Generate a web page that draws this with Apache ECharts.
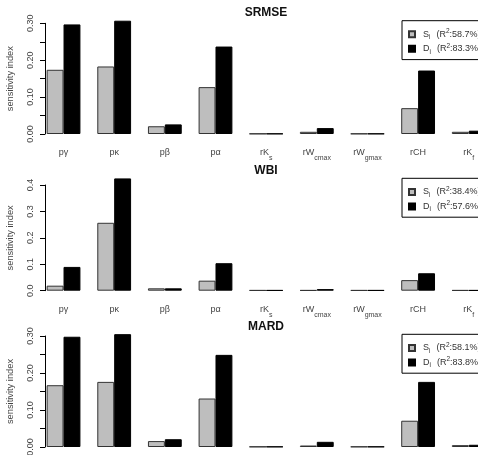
<!DOCTYPE html>
<html>
<head>
<meta charset="utf-8">
<script src="https://cdn.jsdelivr.net/npm/echarts@6/dist/echarts.min.js"></script>
<style>
  html, body { margin: 0; padding: 0; background: #fff; }
  #main { width: 478px; height: 455px; }
</style>
</head>
<body>
<div id="main"></div>
<script>
var categories = ['pγ', 'pκ', 'pβ', 'pα', 'rK_s', 'rW_cmax', 'rW_gmax', 'rCH', 'rK_f'];

var panelTitles = ['SRMSE', 'WBI', 'MARD'];
var r2S = ['58.7', '38.4', '58.1'];
var r2D = ['83.3', '57.6', '83.8'];

var srmseS = [0.174, 0.183, 0.021, 0.127, 0.001, 0.006, 0.001, 0.070, 0.006];
var srmseD = [0.297, 0.307, 0.026, 0.237, 0.001, 0.016, 0.001, 0.172, 0.009];
var wbiS = [0.019, 0.257, 0.009, 0.038, 0.002, 0.002, 0.002, 0.040, 0.002];
var wbiD = [0.090, 0.425, 0.009, 0.104, 0.002, 0.006, 0.002, 0.066, 0.002];
var mardS = [0.167, 0.176, 0.016, 0.131, 0.001, 0.004, 0.001, 0.071, 0.005];
var mardD = [0.298, 0.305, 0.021, 0.249, 0.001, 0.014, 0.001, 0.176, 0.006];

var valuesS = [srmseS, wbiS, mardS];
var valuesD = [srmseD, wbiD, mardD];

var yMax = [0.3, 0.4, 0.3];
var yStep = [0.05, 0.1, 0.05];
var yDigits = [2, 1, 2];

// layout of each panel (pixels)
var gridTop = [23.3, 185, 336];
var gridHeight = [110.7, 105.7, 111];
var titleTop = [7, 164.5, 321];
var legendTop = [20.7, 178.3, 334.3];

var FONT = '"Liberation Sans", Arial, sans-serif';

function catLabel (name) {
  var parts = name.split('_');
  if (parts.length === 1) return '{m|' + name + '}';
  return '{m|' + parts[0] + '}{s|' + parts[1] + '}';
}

var chart = echarts.init(document.getElementById('main'));

var option = {
  animation: false,
  backgroundColor: '#fff',
  title: [],
  legend: [],
  grid: [],
  xAxis: [],
  yAxis: [],
  series: []
};

for (let i = 0; i < 3; i++) {
  option.title.push({
    text: panelTitles[i],
    left: 266,
    top: titleTop[i],
    textAlign: 'center',
    padding: 0,
    textStyle: { fontFamily: FONT, fontSize: 12, fontWeight: 'bold', color: '#111' }
  });

  option.grid.push({
    left: 38.2,
    width: 455.9,
    top: gridTop[i],
    height: gridHeight[i],
    outerBoundsMode: 'none',
    containLabel: false
  });

  option.xAxis.push({
    type: 'category',
    gridIndex: i,
    data: categories,
    axisLine: { show: false },
    axisTick: { show: false },
    axisLabel: {
      interval: 0,
      margin: 14,
      formatter: catLabel,
      rich: {
        m: { fontFamily: FONT, fontSize: 9, color: '#444', lineHeight: 11, verticalAlign: 'top' },
        s: { fontFamily: FONT, fontSize: 7, color: '#444', lineHeight: 14, verticalAlign: 'bottom' }
      }
    }
  });

  let digits = yDigits[i];
  option.yAxis.push({
    type: 'value',
    gridIndex: i,
    min: 0,
    max: yMax[i],
    interval: yStep[i],
    offset: -6.8,
    name: 'sensitivity index',
    nameLocation: 'middle',
    nameGap: 30.5,
    nameTextStyle: { fontFamily: FONT, fontSize: 9.3, color: '#444' },
    splitLine: { show: false },
    axisLine: { show: true, lineStyle: { color: '#000', width: 1 } },
    axisTick: { show: true, length: 5, lineStyle: { color: '#000' } },
    axisLabel: {
      rotate: 90,
      margin: 10,
      fontFamily: FONT,
      fontSize: 9,
      color: '#444',
      formatter: function (v) {
        if (Math.round(v * 100) % 10 !== 0) return '';
        return v.toFixed(digits);
      }
    }
  });

  option.series.push({
    name: 'S',
    type: 'bar',
    xAxisIndex: i,
    yAxisIndex: i,
    data: valuesS[i],
    barWidth: 16.9,
    barGap: '0%',
    clip: false,
    itemStyle: { color: '#bebebe', borderColor: '#333', borderWidth: 1 }
  });
  option.series.push({
    name: 'D',
    type: 'bar',
    xAxisIndex: i,
    yAxisIndex: i,
    data: valuesD[i],
    barWidth: 16.9,
    barGap: '0%',
    clip: false,
    itemStyle: { color: '#000', borderColor: '#000', borderWidth: 1 }
  });

  let rs = r2S[i], rd = r2D[i];
  option.legend.push({
    data: ['S', 'D'],
    orient: 'vertical',
    left: 402,
    top: legendTop[i],
    padding: [7.1, 20, 4.3, 6],
    itemWidth: 6,
    itemHeight: 6,
    itemGap: 1.5,
    icon: 'rect',
    backgroundColor: '#fff',
    borderColor: '#000',
    borderWidth: 1,
    selectedMode: false,
    formatter: function (name) {
      var val = name === 'S' ? rs : rd;
      return '{f|' + name + '}{s|i}{g|(R}{p|2}{m|:' + val + '%)}';
    },
    textStyle: {
      rich: {
        f: { fontFamily: FONT, fontSize: 9, color: '#333', lineHeight: 11, padding: [0, 0, 0, 3] },
        m: { fontFamily: FONT, fontSize: 9, color: '#333', lineHeight: 11 },
        g: { fontFamily: FONT, fontSize: 9, color: '#333', lineHeight: 11, padding: [0, 0, 0, 6] },
        s: { fontFamily: FONT, fontSize: 6.5, color: '#333', lineHeight: 13, verticalAlign: 'bottom' },
        p: { fontFamily: FONT, fontSize: 6.5, color: '#333', lineHeight: 11, verticalAlign: 'top' }
      }
    }
  });
}

chart.setOption(option);
</script>
</body>
</html>
